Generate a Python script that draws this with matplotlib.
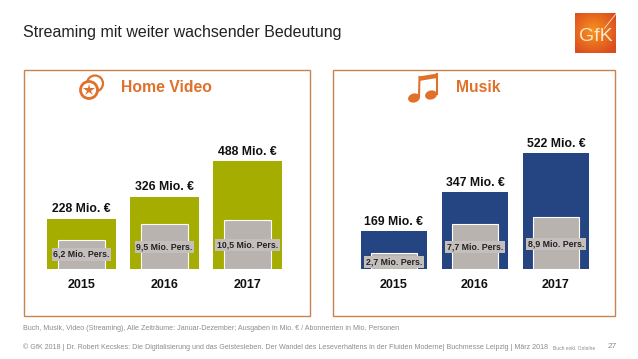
import numpy as np
import matplotlib
matplotlib.use('Agg')
import matplotlib.pyplot as plt
from matplotlib.patches import Rectangle, Circle, Ellipse, Polygon

plt.rcParams['font.family'] = ['Liberation Sans', 'DejaVu Sans']

years = ['2015', '2016', '2017']
video_umsatz = [228, 326, 488]
video_pers = [6.2, 9.5, 10.5]
musik_umsatz = [169, 347, 522]
musik_pers = [2.7, 7.7, 8.9]
video_umsatz_labels = ['228 Mio. €', '326 Mio. €', '488 Mio. €']
video_pers_labels = ['6,2 Mio. Pers.', '9,5 Mio. Pers.', '10,5 Mio. Pers.']
musik_umsatz_labels = ['169 Mio. €', '347 Mio. €', '522 Mio. €']
musik_pers_labels = ['2,7 Mio. Pers.', '7,7 Mio. Pers.', '8,9 Mio. Pers.']

W, H = 638, 359
BOX = '#C9834F'
ORANGE = '#E0702A'
GREEN = '#A4AD00'
BLUE = '#254582'
GREY = '#B9B3B0'

fig = plt.figure(figsize=(W / 100, H / 100), dpi=100)

# overlay in pixel coordinates for the slide furniture
bg = fig.add_axes([0, 0, 1, 1])
bg.set_xlim(0, W)
bg.set_ylim(H, 0)
bg.axis('off')

bg.text(23, 32, 'Streaming mit weiter wachsender Bedeutung', fontsize=11.5,
        color='#222222', va='center', ha='left')
bg.add_patch(Rectangle((24, 70), 286, 246, fill=False, ec=BOX, lw=1))
bg.add_patch(Rectangle((333, 70), 282, 246, fill=False, ec=BOX, lw=1))
bg.text(121, 87, 'Home Video', fontsize=11.3, fontweight='bold', color=ORANGE,
        va='center', ha='left')
bg.text(456, 87, 'Musik', fontsize=11.3, fontweight='bold', color=ORANGE,
        va='center', ha='left')

# film reels
bg.add_patch(Circle((95, 83.5), 8, fill=False, ec=ORANGE, lw=1.6))
bg.add_patch(Circle((89, 90), 8.5, fc='white', ec=ORANGE, lw=2))
bg.plot([89], [90], marker='*', ms=9, color=ORANGE, mew=0)

# note
bg.add_patch(Ellipse((414, 98), 12, 9, angle=-15, color=ORANGE, lw=0))
bg.add_patch(Ellipse((431, 95), 12, 9, angle=-15, color=ORANGE, lw=0))
bg.plot([419, 419.5], [97, 77], color=ORANGE, lw=1.5)
bg.plot([436.5, 436.5], [94, 74], color=ORANGE, lw=1.5)
bg.add_patch(Polygon([(419, 76.5), (437, 73.5), (437, 78), (419, 81)], color=ORANGE, lw=0))

bg.text(23, 329, 'Buch, Musik, Video (Streaming), Alle Zeiträume: Januar-Dezember; '
        'Ausgaben in Mio. € / Abonnenten in Mio. Personen',
        fontsize=5.17, color='#8C8C8C', va='center', ha='left')
bg.text(23, 347, '© GfK 2018 | Dr. Robert Kecskes: Die Digitalisierung und das Geistesleben. '
        'Der Wandel des Leseverhaltens in der Fluiden Moderne| Buchmesse Leipzig | März 2018',
        fontsize=5.15, color='#8C8C8C', va='center', ha='left')
bg.text(553, 348, 'Buch exkl. Onleihe', fontsize=3.6, color='#8C8C8C', va='center', ha='left')
bg.text(617, 346, '27', fontsize=6, color='#8C8C8C', va='center', ha='right')


def pix_axes(x0, x1, y0, y1):
    return fig.add_axes([x0 / W, 1 - y1 / H, (x1 - x0) / W, (y1 - y0) / H])


# logo
logo = pix_axes(575, 616, 13, 53)
yy, xx = np.mgrid[0:1:60j, 0:1:60j]
glow = np.sqrt((xx - 0.45) ** 2 + (yy - 0.55) ** 2)
c1, c2 = np.array([0.97, 0.58, 0.12]), np.array([0.86, 0.30, 0.12])
img = c1 + (c2 - c1) * np.clip(glow / 0.65, 0, 1)[..., None]
logo.imshow(img, extent=(0, 1, 0, 1), aspect='auto', origin='lower')
logo.text(0.5, 0.42, 'GfK', fontsize=14, color='#FBE6C8', ha='center', va='center',
          transform=logo.transAxes)
logo.plot([0.72, 1], [0.62, 0.98], color='#FBE6C8', lw=0.6)
logo.set_xlim(0, 1)
logo.set_ylim(0, 1)
logo.axis('off')


def panel(x0, x1, top, umsatz, pers, col, u_labels, p_labels, px_u, px_p, bw, iw, label_dy):
    ax = pix_axes(x0, x1, top, 269)
    pos = np.arange(3)
    ax.set_xlim(-0.5, 2.5)
    ax.set_ylim(0, (269 - top) / px_u)
    ax.bar(pos, umsatz, width=bw, color=col, lw=0)
    for p, v, s in zip(pos, umsatz, u_labels):
        ax.annotate(s, (p, v), xytext=(0, 2.5), textcoords='offset points', ha='center',
                    va='bottom', fontsize=8.8, fontweight='bold', color='#111111')
    ax.set_xticks(pos, years, fontsize=9, fontweight='bold', color='#111111')
    ax.tick_params(axis='x', length=0, pad=7.5)
    ax.set_yticks([])
    for s in ax.spines.values():
        s.set_visible(False)
    ax.patch.set_alpha(0)

    ax2 = ax.twinx()
    ax2.set_ylim(0, (269 - top) / px_p)
    ax2.bar(pos, pers, width=iw, color=GREY, ec='white', lw=0.8)
    for p, v, s, d in zip(pos, pers, p_labels, label_dy):
        ax2.annotate(s, (p, 0), xytext=(0, d), textcoords='offset points', ha='center',
                     va='center', fontsize=6.3, fontweight='bold', color='#222222',
                     bbox=dict(fc='#C4BFBC', ec='none', pad=1.2))
    ax2.set_yticks([])
    for s in ax2.spines.values():
        s.set_visible(False)


panel(40, 289, 130, video_umsatz, video_pers, GREEN, video_umsatz_labels, video_pers_labels,
      0.2213, 4.7, 0.83, 0.555, [10.5, 16, 17.5])
panel(353.5, 596.5, 130, musik_umsatz, musik_pers, BLUE, musik_umsatz_labels, musik_pers_labels,
      0.2219, 5.85, 0.815, 0.57, [5, 16, 18])

fig.savefig('out.png', dpi=100)
